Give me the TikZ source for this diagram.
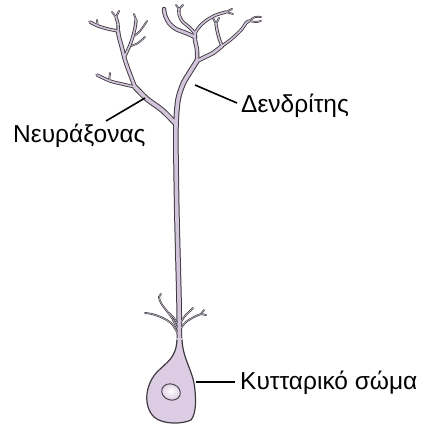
\documentclass[tikz,border=0pt]{standalone}
\usepackage{fontspec}
\setmainfont{Liberation Sans}
\definecolor{membrane}{RGB}{62,58,64}
\definecolor{cytoplasm}{RGB}{210,196,218}
\definecolor{somafill}{RGB}{220,205,228}
\tikzset{
  outA/.style={draw=membrane, line width=5.6pt, line cap=round, line join=round},
  inA/.style={draw=cytoplasm, line width=3.6pt, line cap=round, line join=round},
  outB/.style={draw=membrane, line width=4.4pt, line cap=round, line join=round},
  inB/.style={draw=cytoplasm, line width=2.6pt, line cap=round, line join=round},
  outC/.style={draw=membrane, line width=3.3pt, line cap=round, line join=round},
  inC/.style={draw=cytoplasm, line width=1.6pt, line cap=round, line join=round},
  outD/.style={draw=membrane, line width=1.8pt, line cap=round, line join=round},
  inD/.style={draw=cytoplasm, line width=0.5pt, line cap=round, line join=round},
  lbl/.style={inner sep=0pt, font=\fontsize{24.5}{28}\selectfont, text=black},
  leader/.style={draw=black, line width=1.6pt},
}
% The whole neuron skeleton; #1 is "out" (membrane pass) or "in" (cytoplasm pass)
\newcommand\neuronpaths[1]{%
  % long trunk from the soma up to the right arbor
  \draw[#1A] plot[smooth] coordinates {(179.5,346) (179,300) (177,220) (176,160) (176,125) (178,100) (183,84) (190,72) (197,61)};
  % left arbor
  \draw[#1A] plot[smooth] coordinates {(176,124) (162,110) (147,99) (135,87)};
  \draw[#1B] plot[smooth] coordinates {(135,87) (130,74) (125,60) (122,48) (119,37) (118,31)};
  \draw[#1C] plot[smooth] coordinates {(135,87) (122,84) (110,81) (97,75)};
  \draw[#1D] plot[smooth] coordinates {(109,81) (110,73)};
  \draw[#1C] plot[smooth] coordinates {(118,31) (108,29) (98,26) (90,22)};
  \draw[#1D] plot[smooth] coordinates {(98,27) (97,20)};
  \draw[#1C] plot[smooth] coordinates {(118,31) (118,24) (116,17)};
  \draw[#1D] (116,17) -- (112,12);
  \draw[#1D] (116,17) -- (119,11);
  \draw[#1C] plot[smooth] coordinates {(125,56) (130,45) (133,36) (135,28) (136,20)};
  \draw[#1D] plot[smooth] coordinates {(133,37) (140,31) (147,21)};
  \draw[#1D] plot[smooth] coordinates {(131,46) (138,43) (145,37)};
  \draw[#1D] (136,20) -- (134,14);
  % right arbor
  \draw[#1B] plot[smooth] coordinates {(197,61) (205,57) (213,53) (222,46)};
  \draw[#1C] plot[smooth] coordinates {(222,46) (229,41) (236,35) (242,29) (246,23) (249,21)};
  \draw[#1D] plot[smooth] coordinates {(249,21) (255,17) (261,17)};
  \draw[#1D] plot[smooth] coordinates {(249,21) (256,22) (261,21)};
  \draw[#1C] plot[smooth] coordinates {(222,46) (219,38) (217,30) (216,24)};
  \draw[#1D] (216,24) -- (213,18);
  \draw[#1D] (216,24) -- (219,18);
  \draw[#1B] plot[smooth] coordinates {(197,61) (197,50) (195,40) (195,33)};
  \draw[#1C] plot[smooth] coordinates {(195,33) (189,27) (182,21) (179,14) (179,9)};
  \draw[#1D] (179,9) -- (176,5);
  \draw[#1D] (179,9) -- (183,5);
  \draw[#1C] plot[smooth] coordinates {(195,33) (200,26) (207,20) (216,15) (226,12)};
  \draw[#1D] (226,12) -- (232,9);
  \draw[#1D] (226,12) -- (233,14);
  \draw[#1B] plot[smooth] coordinates {(195,37) (186,33) (176,29) (169,23) (165,15) (164,9)};
  % fine dendrites close to the cell body
  \draw[#1D] plot[smooth] coordinates {(178,334) (172,324) (163,318) (152,314) (145,313)};
  \draw[#1D] plot[smooth] coordinates {(178,330) (172,318) (166,310) (161,303) (159,297) (161,294)};
  \draw[#1D] plot[smooth] coordinates {(178,325) (174,318) (169,313)};
  \draw[#1D] plot[smooth] coordinates {(181,328) (186,322) (194,317) (201,314)};
  \draw[#1D] (201,314) -- (204,310);
  \draw[#1D] (201,314) -- (206,315);
  \draw[#1D] plot[smooth] coordinates {(181,322) (185,316) (190,311) (193,308)};
}
\begin{document}
\begin{tikzpicture}[x=1pt, y=-1pt]
  \fill[white] (0,0) rectangle (424,425);
  \useasboundingbox (0,0) rectangle (424,425);

  % branches: membrane pass first, cytoplasm pass on top
  \neuronpaths{out}
  \neuronpaths{in}

  % cell body
  \fill[somafill] (177,338) .. controls (176,358) and (167,362) .. (157,372)
    .. controls (145,385) and (143,406) .. (154,417)
    .. controls (163,425) and (183,424) .. (191,420)
    .. controls (197,413) and (196,395) .. (194,383)
    .. controls (191,368) and (183,358) .. (182,338) -- cycle;
  \draw[membrane, line width=1.2pt, line join=round]
    (177,340) .. controls (176,358) and (167,362) .. (157,372)
    .. controls (145,385) and (143,406) .. (154,417)
    .. controls (163,425) and (183,424) .. (191,420)
    .. controls (197,413) and (196,395) .. (194,383)
    .. controls (191,368) and (183,358) .. (182,340);
  % nucleus
  \shade[inner color=white, outer color=somafill, rotate around={-20:(171,392)}]
    (171,392) ellipse [x radius=9.5pt, y radius=8pt];
  \draw[membrane, line width=0.9pt, rotate around={-20:(171,392)}]
    (171,392) ellipse [x radius=9.5pt, y radius=8pt];

  % labels
  \node[lbl, anchor=base west] (dend) at (241,113) {Δενδρίτης};
  \node[lbl, anchor=base west] (axon) at (13,142) {Νευράξονας};
  \node[lbl, anchor=base west] (soma) at (240,389) {Κυτταρικό σώμα};

  % leader lines
  \coordinate (dendTip) at (195,85);
  \coordinate (dendEnd) at (237,103);
  \coordinate (axonTip) at (145,98);
  \coordinate (axonEnd) at (106,121);
  \coordinate (somaTip) at (196,382);
  \coordinate (somaEnd) at (235,382);
  \draw[leader] (dendTip) -- (dendEnd);
  \draw[leader] (axonTip) -- (axonEnd);
  \draw[leader] (somaTip) -- (somaEnd);
\end{tikzpicture}
\end{document}
